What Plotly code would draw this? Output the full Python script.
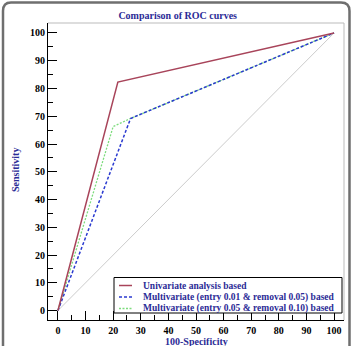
import plotly.graph_objects as go

# Data
uni_x = [0, 21.7, 100]
uni_y = [0, 82.3, 100]
mv1_x = [0, 26.3, 100]
mv1_y = [0, 69.2, 100]
mv2_x = [0, 20.0, 26.3, 100]
mv2_y = [0, 66.3, 69.2, 100]
diag_x = [0, 100]
diag_y = [0, 100]
names = ["Univariate analysis based",
         "Multivariate (entry 0.01 & removal 0.05) based",
         "Multivariate (entry 0.05 & removal 0.10) based"]
tick_vals = [0, 10, 20, 30, 40, 50, 60, 70, 80, 90, 100]

W, H = 353, 346
L, R, T, B = 48, 9, 23, 26
pw, ph = W - L - R, H - T - B

def px(x):
    return (x - L) / pw

def py(y):
    return (H - B - y) / ph

SERIF = "Liberation Serif, Times New Roman, serif"
BLUE_TXT = "#2b2b96"
colors = ["#a8445a", "#2a3ad0", "#7ddc7d"]
dashes = ["solid", "3px,2px", "2px,1.5px"]
widths = [1.5, 1.5, 1.3]

fig = go.Figure()
fig.add_trace(go.Scatter(x=diag_x, y=diag_y, mode="lines",
                         line=dict(color="#cccccc", width=1), showlegend=False, hoverinfo="skip"))
fig.add_trace(go.Scatter(x=mv2_x, y=mv2_y, mode="lines", name=names[2], showlegend=False,
                         line=dict(color=colors[2], width=widths[2], dash=dashes[2])))
fig.add_trace(go.Scatter(x=mv1_x, y=mv1_y, mode="lines", name=names[1], showlegend=False,
                         line=dict(color=colors[1], width=widths[1], dash=dashes[1])))
fig.add_trace(go.Scatter(x=uni_x, y=uni_y, mode="lines", name=names[0], showlegend=False,
                         line=dict(color=colors[0], width=widths[0], dash=dashes[0])))

axis_common = dict(
    tickvals=tick_vals, ticks="inside", ticklen=9, tickwidth=1.3, tickcolor="black",
    minor=dict(dtick=5, ticks="inside", ticklen=5, tickwidth=1.3, tickcolor="black"),
    showline=True, linecolor="black", linewidth=1.2, showgrid=False, zeroline=False,
    automargin=False,
    tickfont=dict(family=SERIF, size=10, color="black", weight="bold"),
)

shapes = [
    dict(type="line", xref="paper", yref="paper", x0=0, x1=1, y0=1, y1=1,
         line=dict(color="#bbbbbb", width=1)),
    dict(type="line", xref="paper", yref="paper", x0=1, x1=1, y0=0, y1=1,
         line=dict(color="#bbbbbb", width=1)),
    dict(type="path", xref="paper", yref="paper",
         path=(f"M {px(3)},{py(360)} L {px(3)},{py(11)} "
               f"Q {px(3)},{py(2.5)} {px(11)},{py(2.5)} "
               f"L {px(341)},{py(2.5)} Q {px(349.5)},{py(2.5)} {px(349.5)},{py(11)} "
               f"L {px(349.5)},{py(360)}"),
         line=dict(color="#6f6f6f", width=2.5)),
    # legend box
    dict(type="rect", xref="paper", yref="paper", x0=px(114), x1=px(342),
         y0=py(313), y1=py(277.5), fillcolor="white", line=dict(color="black", width=1)),
]
annotations = [
    dict(text="<b>Sensitivity</b>", xref="paper", yref="paper", x=px(15), y=py(170),
         textangle=-90, showarrow=False, xanchor="center", yanchor="middle",
         font=dict(family=SERIF, size=10, color=BLUE_TXT)),
    dict(text="<b>100-Specificity</b>", xref="paper", yref="paper", x=px(196), y=py(341),
         showarrow=False, xanchor="center", yanchor="middle",
         font=dict(family=SERIF, size=10, color=BLUE_TXT)),
]
leg_rows = [285.5, 297, 308.5]
for i, name in enumerate(names):
    yy = leg_rows[i]
    shapes.append(dict(type="line", xref="paper", yref="paper", x0=px(119), x1=px(132),
                       y0=py(yy), y1=py(yy),
                       line=dict(color=colors[i], width=widths[i], dash=dashes[i])))
    annotations.append(dict(text=f"<b>{name}</b>", xref="paper", yref="paper",
                            x=px(141), y=py(yy), xanchor="left", yanchor="middle",
                            showarrow=False,
                            font=dict(family=SERIF, size=9.5, color=BLUE_TXT)))

fig.update_layout(
    width=W, height=H,
    margin=dict(l=L, r=R, t=T, b=B),
    plot_bgcolor="white", paper_bgcolor="white",
    showlegend=False,
    title=dict(text="<b>Comparison of ROC curves</b>", x=px(197), xanchor="center",
               y=1 - 15 / H, yanchor="middle",
               font=dict(family=SERIF, size=10, color=BLUE_TXT)),
    xaxis=dict(range=[-3.6, 103.6], ticklabelstandoff=1, **axis_common),
    yaxis=dict(range=[-3.4, 103.6], **axis_common),
    shapes=shapes,
    annotations=annotations,
)

fig.write_html("out.html")
